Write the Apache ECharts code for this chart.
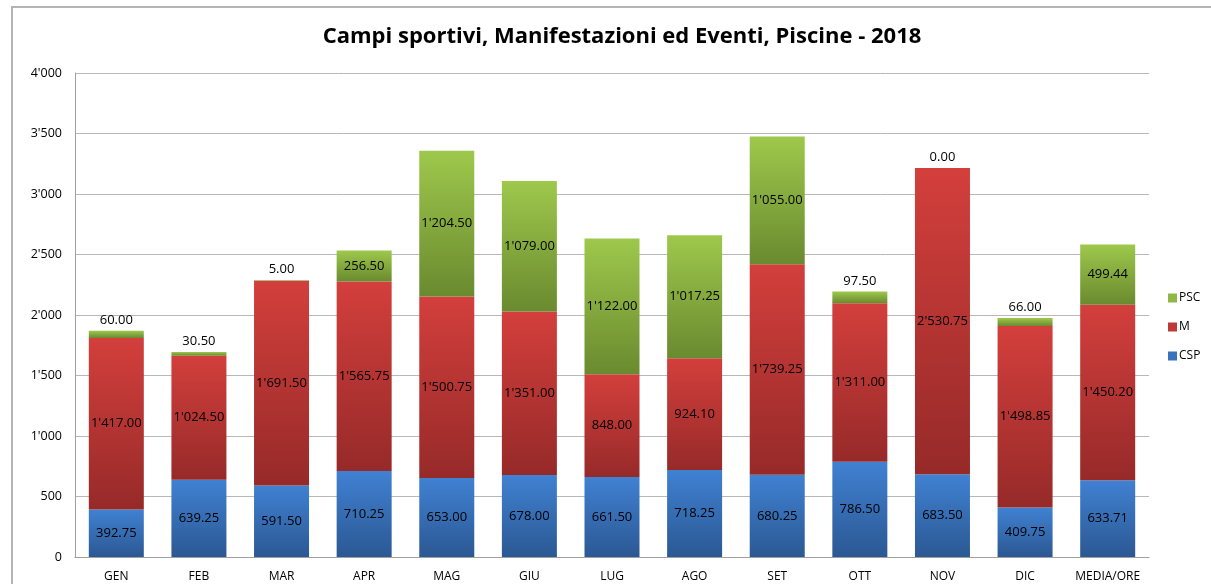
<!DOCTYPE html>
<html>
<head>
<meta charset="utf-8">
<script src="https://cdn.jsdelivr.net/npm/echarts@6/dist/echarts.min.js"></script>
<style>
    html, body { margin: 0; padding: 0; background: #fff; }
    #chart { width: 1211px; height: 584px; }
</style>
</head>
<body>
<div id="chart"></div>
<script>
var months = ["GEN", "FEB", "MAR", "APR", "MAG", "GIU", "LUG", "AGO", "SET", "OTT", "NOV", "DIC", "MEDIA/ORE"];
var cspValues = [392.75, 639.25, 591.50, 710.25, 653.00, 678.00, 661.50, 718.25, 680.25, 786.50, 683.50, 409.75, 633.71];
var mValues = [1417.00, 1024.50, 1691.50, 1565.75, 1500.75, 1351.00, 848.00, 924.10, 1739.25, 1311.00, 2530.75, 1498.85, 1450.20];
var pscValues = [60.00, 30.50, 5.00, 256.50, 1204.50, 1079.00, 1122.00, 1017.25, 1055.00, 97.50, 0.00, 66.00, 499.44];

var font = "Open Sans";

// 1'234.50
function fmt(v, dec) {
    var s = v.toFixed(dec);
    var parts = s.split(".");
    parts[0] = parts[0].replace(/\B(?=(\d{3})+(?!\d))/g, "'");
    return parts.join(".");
}

function grad(top, bottom) {
    return new echarts.graphic.LinearGradient(0, 0, 0, 1, [
        { offset: 0, color: top },
        { offset: 1, color: bottom }
    ]);
}

function makeSeries(name, values, top, bottom, smallOnTop) {
    return {
        name: name,
        type: "bar",
        stack: "tot",
        barWidth: 55,
        animation: false,
        itemStyle: { color: grad(top, bottom) },
        data: values.map(function (v) {
            var item = { value: v };
            if (smallOnTop && v < 150) {
                item.label = { position: "top", distance: 4 };
            }
            return item;
        }),
        label: {
            show: true,
            position: "inside",
            color: "#000",
            fontFamily: font,
            fontSize: 13,
            formatter: function (p) { return fmt(p.value, 2); }
        }
    };
}

var chart = echarts.init(document.getElementById("chart"));

var option = {
    backgroundColor: "#fff",
    title: {
        text: "Campi sportivi, Manifestazioni ed Eventi, Piscine - 2018",
        left: 617,
        textAlign: "center",
        top: 21,
        textStyle: { fontFamily: font, fontSize: 22, fontWeight: "bold", color: "#000" }
    },
    graphic: [{
        type: "rect",
        shape: { x: 12, y: 7, width: 1400, height: 800 },
        style: { fill: null, stroke: "#b4b4b4", lineWidth: 2 },
        silent: true
    }],
    legend: {
        orient: "vertical",
        left: 1163,
        top: 287,
        itemWidth: 9,
        itemHeight: 9,
        itemGap: 17,
        icon: "rect",
        data: [
            { name: "PSC", itemStyle: { color: "#8fb944" } },
            { name: "M", itemStyle: { color: "#c0393a" } },
            { name: "CSP", itemStyle: { color: "#3a72bc" } }
        ],
        textStyle: { fontFamily: font, fontSize: 12, color: "#000", padding: [0, 0, 0, -3] }
    },
    grid: {
        left: 75,
        right: 62,
        top: 73,
        bottom: 27
    },
    xAxis: {
        type: "category",
        data: months,
        axisLine: { show: true, lineStyle: { color: "#a0a0a0", width: 1 } },
        axisTick: { show: false },
        axisLabel: { fontFamily: font, fontSize: 12, color: "#000", margin: 14, interval: 0 }
    },
    yAxis: {
        type: "value",
        min: 0,
        max: 4000,
        interval: 500,
        axisLine: { show: true, lineStyle: { color: "#a0a0a0", width: 1 } },
        axisTick: { show: false },
        axisLabel: {
            fontFamily: font, fontSize: 12.5, color: "#000", margin: 13,
            formatter: function (v) { return fmt(v, 0); }
        },
        splitLine: { lineStyle: { color: "#b8b8b8", width: 1 } }
    },
    series: [
        makeSeries("CSP", cspValues, "#4081d2", "#2b5893", false),
        makeSeries("M", mValues, "#d33f3c", "#962a29", false),
        makeSeries("PSC", pscValues, "#9ec84c", "#6a8a2f", true)
    ]
};

chart.setOption(option);
</script>
</body>
</html>
